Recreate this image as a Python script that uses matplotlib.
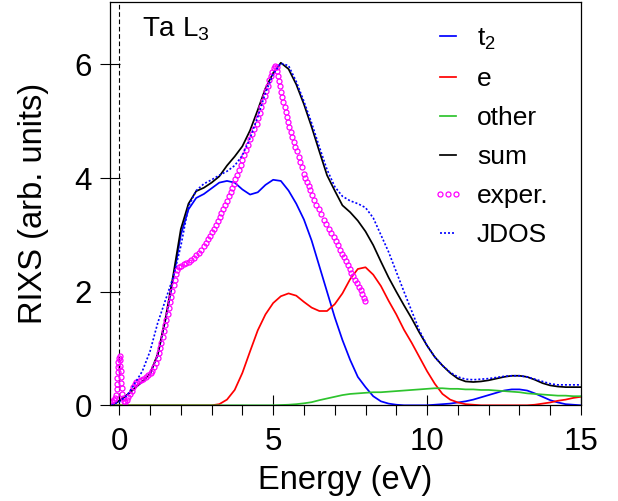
import numpy as np
import matplotlib
matplotlib.use('Agg')
import matplotlib.pyplot as plt
from matplotlib.ticker import MultipleLocator

plt.rcParams['font.family'] = ['Liberation Sans', 'DejaVu Sans']
plt.rcParams['mathtext.fontset'] = 'custom'
plt.rcParams['mathtext.rm'] = 'Liberation Sans'
plt.rcParams['mathtext.default'] = 'regular'

# common energy grid for the calculated spectra (eV)
energia = np.arange(-0.25, 15.01, 0.25)

t2 = [0.0, 0.08, 0.18, 0.30, 0.42, 0.55, 0.88, 1.50, 2.20, 3.00, 3.45, 3.65, 3.72,
      3.82, 3.92, 3.95, 3.92, 3.80, 3.71, 3.75, 3.88, 3.97, 3.95, 3.78, 3.55, 3.27,
      2.90, 2.45, 2.00, 1.55, 1.15, 0.80, 0.50, 0.32, 0.16, 0.07, 0.03, 0.01, 0.0,
      0.0, 0.0, 0.0, 0.01, 0.02, 0.03, 0.05, 0.07, 0.10, 0.14, 0.18, 0.22, 0.26,
      0.28, 0.28, 0.26, 0.21, 0.15, 0.09, 0.05, 0.02, 0.01, 0.0]

e = [0.0, 0.0, 0.0, 0.0, 0.0, 0.0, 0.0, 0.0, 0.0, 0.0, 0.0, 0.0, 0.0,
     0.0, 0.02, 0.10, 0.27, 0.57, 0.95, 1.32, 1.60, 1.80, 1.92, 1.97, 1.93, 1.82,
     1.72, 1.66, 1.66, 1.78, 1.97, 2.22, 2.40, 2.43, 2.30, 2.10, 1.84, 1.60, 1.33,
     1.10, 0.85, 0.60, 0.38, 0.20, 0.10, 0.05, 0.02, 0.01, 0.0, 0.0, 0.0, 0.0,
     0.0, 0.0, 0.0, 0.01, 0.03, 0.05, 0.08, 0.10, 0.13, 0.15]

outros = [0.0, 0.0, 0.0, 0.0, 0.0, 0.0, 0.0, 0.0, 0.0, 0.0, 0.0, 0.0, 0.0,
          0.0, 0.0, 0.0, 0.0, 0.0, 0.0, 0.0, 0.0, 0.0, 0.005, 0.01, 0.02, 0.035,
          0.055, 0.09, 0.12, 0.15, 0.18, 0.20, 0.21, 0.22, 0.23, 0.23, 0.24, 0.25, 0.26,
          0.27, 0.28, 0.29, 0.30, 0.30, 0.29, 0.29, 0.28, 0.28, 0.27, 0.27, 0.26, 0.25,
          0.24, 0.23, 0.21, 0.20, 0.19, 0.18, 0.17, 0.17, 0.16, 0.16]

soma = [0.0, 0.08, 0.18, 0.30, 0.42, 0.56, 0.90, 1.52, 2.28, 3.10, 3.55, 3.77, 3.83,
        3.92, 4.03, 4.22, 4.38, 4.56, 4.84, 5.20, 5.58, 5.85, 6.03, 5.92, 5.65, 5.30,
        4.90, 4.47, 4.05, 3.78, 3.52, 3.40, 3.25, 3.06, 2.82, 2.53, 2.25, 2.00, 1.76,
        1.53, 1.28, 1.05, 0.85, 0.70, 0.57, 0.47, 0.42, 0.41, 0.42, 0.44, 0.47, 0.50,
        0.52, 0.52, 0.50, 0.45, 0.39, 0.35, 0.33, 0.32, 0.32, 0.32]

jdos = [0.0, 0.06, 0.17, 0.38, 0.60, 0.95, 1.45, 1.85, 2.25, 2.80, 3.50, 3.78, 3.90,
        3.97, 4.05, 4.12, 4.22, 4.40, 4.70, 5.08, 5.50, 5.83, 6.02, 5.98, 5.70, 5.35,
        4.97, 4.55, 4.15, 3.85, 3.68, 3.60, 3.55, 3.48, 3.30, 3.00, 2.70, 2.35, 2.00,
        1.66, 1.32, 1.05, 0.85, 0.70, 0.58, 0.50, 0.46, 0.45, 0.46, 0.47, 0.49, 0.51,
        0.52, 0.52, 0.50, 0.46, 0.42, 0.38, 0.36, 0.36, 0.36, 0.36]

# medida experimental
energia_exp = [-0.42, -0.36, -0.30, -0.24, -0.18, -0.13, -0.10, -0.08, -0.07, -0.06, -0.05,
               -0.04, -0.03, -0.01, 0.01, 0.03, 0.04, 0.05, 0.06, 0.07, 0.08, 0.10, 0.12,
               0.16, 0.20, 0.25, 0.30, 0.35, 0.40, 0.45, 0.50, 0.56, 0.63, 0.70, 0.78,
               0.86, 0.94, 1.02, 1.08, 1.14, 1.20, 1.25, 1.29, 1.33, 1.37, 1.41, 1.45,
               1.49, 1.53, 1.57, 1.61, 1.65, 1.69, 1.73, 1.77, 1.81, 1.85, 1.89, 1.95,
               2.02, 2.10, 2.18, 2.26, 2.34, 2.42, 2.50, 2.58, 2.66, 2.74, 2.81, 2.88,
               2.95, 3.02, 3.08, 3.14, 3.20, 3.26, 3.32, 3.38, 3.44, 3.50, 3.56, 3.62,
               3.67, 3.72, 3.77, 3.82, 3.88, 3.94, 4.00, 4.06, 4.12, 4.18, 4.25, 4.32,
               4.39, 4.46, 4.52, 4.57, 4.62, 4.67, 4.72, 4.77, 4.82, 4.87, 4.92, 4.97,
               5.02, 5.07, 5.11, 5.14, 5.17, 5.20, 5.23, 5.26, 5.29, 5.33, 5.37, 5.41,
               5.45, 5.49, 5.53, 5.57, 5.62, 5.67, 5.72, 5.77, 5.83, 5.88, 5.94, 6.00,
               6.05, 6.10, 6.16, 6.21, 6.26, 6.32, 6.40, 6.48, 6.56, 6.65, 6.73, 6.81,
               6.89, 6.97, 7.04, 7.11, 7.18, 7.25, 7.30, 7.36, 7.42, 7.48, 7.54, 7.60,
               7.66, 7.72, 7.78, 7.84, 7.89, 7.94, 7.98]
rixs_exp = [0.03, 0.05, 0.06, 0.07, 0.09, 0.12, 0.18, 0.28, 0.38, 0.48, 0.58,
            0.68, 0.77, 0.84, 0.86, 0.80, 0.70, 0.60, 0.50, 0.40, 0.30, 0.20, 0.12,
            0.07, 0.06, 0.09, 0.14, 0.20, 0.26, 0.32, 0.38, 0.41, 0.43, 0.45, 0.47,
            0.50, 0.54, 0.57, 0.61, 0.67, 0.75, 0.83, 0.92, 1.01, 1.10, 1.20, 1.31,
            1.41, 1.51, 1.61, 1.71, 1.81, 1.91, 2.01, 2.11, 2.21, 2.31, 2.38, 2.43,
            2.46, 2.48, 2.50, 2.53, 2.56, 2.60, 2.64, 2.69, 2.74, 2.80, 2.86, 2.92,
            2.98, 3.05, 3.11, 3.17, 3.24, 3.31, 3.38, 3.45, 3.53, 3.60, 3.68, 3.75,
            3.82, 3.90, 3.98, 4.06, 4.14, 4.23, 4.32, 4.41, 4.50, 4.59, 4.68, 4.77,
            4.86, 4.95, 5.05, 5.15, 5.25, 5.35, 5.45, 5.54, 5.63, 5.72, 5.80, 5.87,
            5.93, 5.97, 5.95, 5.88, 5.80, 5.71, 5.62, 5.52, 5.43, 5.34, 5.25, 5.16,
            5.08, 4.99, 4.90, 4.81, 4.73, 4.64, 4.55, 4.47, 4.38, 4.29, 4.19, 4.08,
            4.00, 3.93, 3.86, 3.79, 3.70, 3.61, 3.53, 3.45, 3.36, 3.26, 3.19, 3.11,
            3.04, 2.97, 2.89, 2.82, 2.74, 2.67, 2.61, 2.54, 2.47, 2.40, 2.33, 2.27,
            2.21, 2.15, 2.09, 2.03, 1.96, 1.89, 1.84]

#######################################################

fig = plt.figure(figsize=(6.18, 5.01), dpi=100)
ax = fig.add_axes([110/618, 1 - 405.3/501, 471/618, 403.3/501])

lw = 1.25
ax.axvline(0, color='black', lw=0.8, dashes=(4.2, 2.4), zorder=1)
ax.plot(energia, t2, color='#0000ff', lw=lw, label='t$_2$')
ax.plot(energia, e, color='#ff0000', lw=lw, label='e')
ax.plot(energia, outros, color='#2ec42e', lw=lw, label='other')
ax.plot(energia, soma, color='black', lw=lw, label='sum')
ax.plot(energia_exp, rixs_exp, ls='none', marker='o', ms=3.6, mew=0.9,
        mfc='none', mec='#ff00ff', label='exper.')
ax.plot(energia, jdos, color='#0000ff', lw=1.2, ls=(0, (1.2, 1.2)), label='JDOS')

ax.set_xlim(-0.3, 15)
ax.set_ylim(0, 7.1)
ax.xaxis.set_major_locator(MultipleLocator(5))
ax.xaxis.set_minor_locator(MultipleLocator(1))
ax.yaxis.set_major_locator(MultipleLocator(2))
ax.tick_params(which='major', direction='inout', length=15, width=0.8,
               labelsize=22.5, pad=8)
ax.tick_params(which='minor', direction='out', length=7, width=0.8)
ax.tick_params(axis='y', which='major', length=14.4, pad=6)
for s in ax.spines.values():
    s.set_linewidth(0.9)

ax.set_xlabel('Energy (eV)', fontsize=23.5, labelpad=6)
ax.set_ylabel('RIXS (arb. units)', fontsize=23.5, labelpad=18)

ax.text(0.75, 6.5, 'Ta L$_3$', fontsize=20, va='baseline')

ax.legend(loc='upper left', bbox_to_anchor=(0.683, 0.939), frameon=False,
          fontsize=19, handlelength=1.21, handletextpad=0.51, labelspacing=0.57,
          borderpad=0, borderaxespad=0, numpoints=3)

plt.savefig('out.png', dpi=100)
